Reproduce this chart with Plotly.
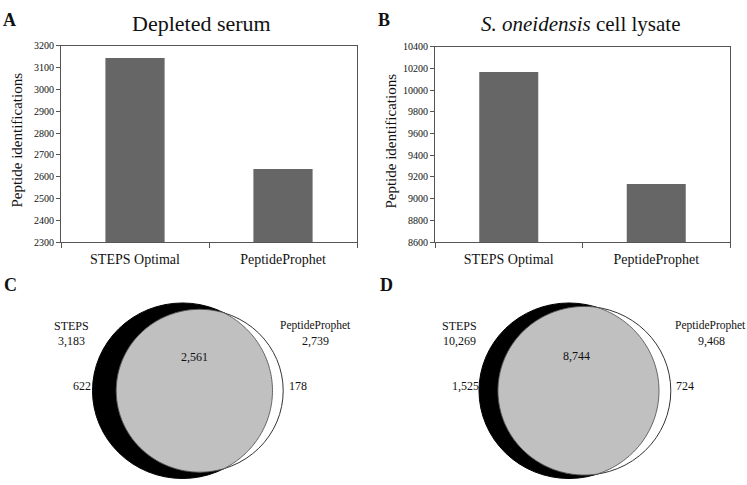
import math
import plotly.graph_objects as go

# ---------------- data ----------------
categories = ["STEPS Optimal", "PeptideProphet"]
serum_values = [3145, 2635]
lysate_values = [10170, 9135]

serum_ticks = list(range(2300, 3201, 100))
lysate_ticks = list(range(8600, 10401, 200))

# Venn data: totals and overlap
venn_c_steps_total = 3183
venn_c_pp_total = 2739
venn_c_overlap = 2561
venn_c_steps_only = 622
venn_c_pp_only = 178

venn_d_steps_total = 10269
venn_d_pp_total = 9468
venn_d_overlap = 8744
venn_d_steps_only = 1525
venn_d_pp_only = 724

# ---------------- style ----------------
W, H = 747, 485
SERIF = "Liberation Serif"
BAR_COLOR = "#666666"
AXIS_COLOR = "#555555"
GRAY = "#c0c0c0"


def px_x(v):
    return v / W


def px_y(v):
    return 1 - v / H


fig = go.Figure()

fig.add_trace(go.Bar(x=categories, y=serum_values, marker=dict(color=BAR_COLOR, line=dict(width=0)),
                     width=0.4, xaxis="x", yaxis="y", hoverinfo="skip", showlegend=False))
fig.add_trace(go.Bar(x=categories, y=lysate_values, marker=dict(color=BAR_COLOR, line=dict(width=0)),
                     width=0.4, xaxis="x2", yaxis="y2", hoverinfo="skip", showlegend=False))

common_x = dict(type="category", showline=True, mirror=True, linecolor=AXIS_COLOR, linewidth=1,
                ticks="outside", tickson="boundaries", ticklen=5, tickcolor=AXIS_COLOR,
                tickfont=dict(family=SERIF, size=14, color="#111"), showgrid=False, zeroline=False,
                fixedrange=True, ticklabelstandoff=4)
common_y = dict(showline=True, mirror=True, linecolor=AXIS_COLOR, linewidth=1, ticks="outside",
                ticklen=4, tickcolor=AXIS_COLOR, tickfont=dict(family=SERIF, size=10, color="#111"),
                showgrid=False, zeroline=False, fixedrange=True, tickformat="d")

fig.update_layout(
    width=W, height=H, margin=dict(l=0, r=0, t=0, b=0),
    font=dict(family=SERIF, color="#111"),
    paper_bgcolor="white", plot_bgcolor="rgba(0,0,0,0)", showlegend=False, bargap=0.6,
    xaxis=dict(domain=[px_x(61), px_x(357)], anchor="y", **common_x),
    yaxis=dict(domain=[px_y(242), px_y(41)], anchor="x", range=[2300, 3200],
               tickvals=serum_ticks, **common_y),
    xaxis2=dict(domain=[px_x(435), px_x(730)], anchor="y2", **common_x),
    yaxis2=dict(domain=[px_y(242), px_y(42)], anchor="x2", range=[8600, 10400],
                tickvals=lysate_ticks, **common_y),
    xaxis3=dict(domain=[0, 1], range=[0, W], visible=False, anchor="y3", fixedrange=True),
    yaxis3=dict(domain=[0, 1], range=[H, 0], visible=False, anchor="x3", fixedrange=True),
)


def lens_area(r1, r2, d):
    if d >= r1 + r2:
        return 0.0
    if d <= abs(r1 - r2):
        return math.pi * min(r1, r2) ** 2
    a1 = r1 * r1 * math.acos((d * d + r1 * r1 - r2 * r2) / (2 * d * r1))
    a2 = r2 * r2 * math.acos((d * d + r2 * r2 - r1 * r1) / (2 * d * r2))
    t = (-d + r1 + r2) * (d + r1 - r2) * (d - r1 + r2) * (d + r1 + r2)
    return a1 + a2 - 0.5 * math.sqrt(max(t, 0))


def venn(cx, cy, R, steps_total, pp_total, overlap):
    r1 = R
    r2 = R * math.sqrt(pp_total / steps_total)
    target = math.pi * r1 * r1 * overlap / steps_total
    lo, hi = abs(r1 - r2), r1 + r2
    for _ in range(80):
        mid = (lo + hi) / 2
        if lens_area(r1, r2, mid) > target:
            lo = mid
        else:
            hi = mid
    d = (lo + hi) / 2
    x1, x2 = cx, cx + d
    # steps circle (black)
    fig.add_shape(type="circle", xref="x3", yref="y3", x0=x1 - r1, x1=x1 + r1, y0=cy - r1, y1=cy + r1,
                  fillcolor="black", line=dict(color="black", width=1), layer="above")
    # peptideprophet circle (white)
    fig.add_shape(type="circle", xref="x3", yref="y3", x0=x2 - r2, x1=x2 + r2, y0=cy - r2, y1=cy + r2,
                  fillcolor="white", line=dict(color="#333", width=1), layer="above")
    # lens
    a = (d * d + r1 * r1 - r2 * r2) / (2 * d)
    h = math.sqrt(max(r1 * r1 - a * a, 0))
    th1 = math.atan2(h, a)
    phi = math.atan2(h, a - d)
    pts = []
    n = 120
    for i in range(n + 1):
        t = -th1 + 2 * th1 * i / n
        pts.append((x1 + r1 * math.cos(t), cy + r1 * math.sin(t)))
    for i in range(n + 1):
        t = phi + (2 * math.pi - 2 * phi) * i / n
        pts.append((x2 + r2 * math.cos(t), cy + r2 * math.sin(t)))
    path = "M " + " L ".join(f"{px:.2f},{py:.2f}" for px, py in pts) + " Z"
    fig.add_shape(type="path", xref="x3", yref="y3", path=path, fillcolor=GRAY,
                  line=dict(color="#444", width=0.8), layer="above")


venn(182.5, 394.5, 90, venn_c_steps_total, venn_c_pp_total, venn_c_overlap)
venn(569, 394.5, 90, venn_d_steps_total, venn_d_pp_total, venn_d_overlap)


def text(x, y, s, size=12, bold=False, angle=0, xanchor="center"):
    fig.add_annotation(x=px_x(x), y=px_y(y), xref="paper", yref="paper", text=f"<b>{s}</b>" if bold else s,
                       showarrow=False, font=dict(family=SERIF, size=size, color="#111"),
                       xanchor=xanchor, yanchor="middle", textangle=angle)


# panel letters
text(9, 14, "A", size=18, bold=True)
text(384, 14, "B", size=18, bold=True)
text(10, 286, "C", size=18, bold=True)
text(386, 286, "D", size=18, bold=True)

# titles
text(202, 18, "Depleted serum", size=22)
text(580, 18, "<i>S. oneidensis</i> cell lysate", size=21)
text(17, 138, "Peptide identifications", size=15, angle=-90)
text(391, 138, "Peptide identifications", size=15, angle=-90)


def fmt(v):
    return f"{v:,}"


# venn C labels
text(71, 328, "STEPS")
text(71, 343, fmt(venn_c_steps_total))
text(315, 328, "PeptideProphet", size=11.5)
text(315, 343, fmt(venn_c_pp_total))
text(194, 360, fmt(venn_c_overlap))
text(82, 390, fmt(venn_c_steps_only))
text(298, 390, fmt(venn_c_pp_only))

# venn D labels
text(459, 328, "STEPS")
text(459, 343, fmt(venn_d_steps_total))
text(710, 328, "PeptideProphet", size=11.5)
text(711, 343, fmt(venn_d_pp_total))
text(576, 359, fmt(venn_d_overlap))
text(465, 390, fmt(venn_d_steps_only))
text(685, 390, fmt(venn_d_pp_only))

fig.write_html("out.html", config={"displayModeBar": False, "staticPlot": True},
               post_script="document.body.style.margin='0';document.body.style.overflow='hidden';")
